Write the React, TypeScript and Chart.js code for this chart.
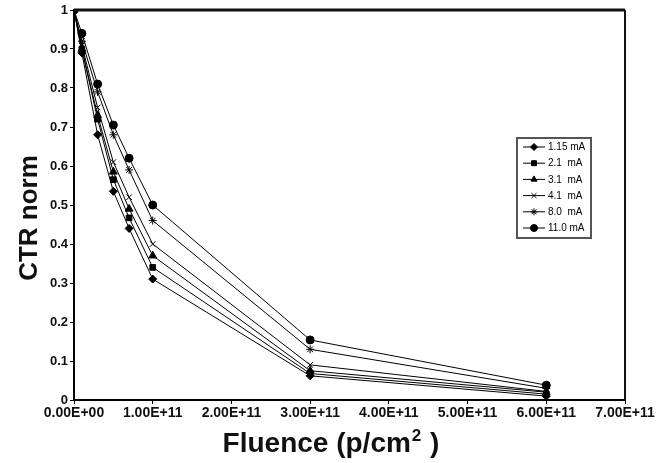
import React, { useEffect, useRef } from "react";
import { Chart, registerables } from "chart.js";
import { drawPoint } from "chart.js/helpers";

Chart.register(...registerables);

const fluence = [0, 1e10, 3e10, 5e10, 7e10, 1e11, 3e11, 6e11];
const seriesLabels = ["1.15 mA", "2.1  mA", "3.1  mA", "4.1  mA", "8.0  mA", "11.0 mA"];
const s115 = [1, 0.89, 0.68, 0.535, 0.44, 0.31, 0.062, 0.01];
const s21 = [1, 0.9, 0.72, 0.565, 0.467, 0.34, 0.068, 0.015];
const s31 = [1, 0.9, 0.73, 0.585, 0.49, 0.37, 0.075, 0.02];
const s41 = [1, 0.91, 0.75, 0.61, 0.52, 0.4, 0.09, 0.022];
const s80 = [1, 0.92, 0.79, 0.68, 0.59, 0.46, 0.13, 0.03];
const s110 = [1, 0.94, 0.81, 0.705, 0.62, 0.5, 0.154, 0.038];
const seriesValues = [s115, s21, s31, s41, s80, s110];
const pointStyles = ["rectRot", "rect", "triangle", "crossRot", "star", "circle"];
const pointRadii = [4, 4, 4.5, 4, 4, 4];
const xTicks = [0, 1e11, 2e11, 3e11, 4e11, 5e11, 6e11, 7e11];
const xTitle = ["Fluence (p/cm", "2", " )"];
const yTitle = "CTR norm";

const FONT = "'Liberation Sans', Arial, sans-serif";

const fmtSci = (v: number) => {
  if (v === 0) return "0.00E+00";
  const e = Math.floor(Math.log10(v));
  const m = v / Math.pow(10, e);
  return m.toFixed(2) + "E+" + String(e).padStart(2, "0");
};

const framePlugin = {
  id: "frame",
  afterDatasetsDraw(chart: any) {
    const { ctx, chartArea } = chart;
    ctx.save();
    ctx.strokeStyle = "#111";
    ctx.lineWidth = 3;
    ctx.beginPath();
    ctx.moveTo(chartArea.left, chartArea.top);
    ctx.lineTo(chartArea.right, chartArea.top);
    ctx.stroke();
    ctx.lineWidth = 2;
    ctx.beginPath();
    ctx.moveTo(chartArea.right, chartArea.top);
    ctx.lineTo(chartArea.right, chartArea.bottom);
    ctx.stroke();
    ctx.restore();
  },
};

const titlesPlugin = {
  id: "titles",
  afterDraw(chart: any) {
    const { ctx } = chart;
    ctx.save();
    ctx.fillStyle = "#111";
    const big = `bold 28px ${FONT}`;
    const small = `bold 17px ${FONT}`;
    ctx.font = big;
    const w1 = ctx.measureText(xTitle[0]).width;
    const w3 = ctx.measureText(xTitle[2]).width;
    ctx.font = small;
    const w2 = ctx.measureText(xTitle[1]).width + 2;
    const total = w1 + w2 + w3;
    let x = 331 - total / 2;
    const base = 452;
    ctx.textBaseline = "alphabetic";
    ctx.textAlign = "left";
    ctx.font = big;
    ctx.fillText(xTitle[0], x, base);
    x += w1 + 1;
    ctx.font = small;
    ctx.fillText(xTitle[1], x, base - 11);
    x += w2 - 1;
    ctx.font = big;
    ctx.fillText(xTitle[2], x, base);
    ctx.translate(30, 218);
    ctx.rotate(-Math.PI / 2);
    ctx.font = `bold 26px ${FONT}`;
    ctx.textAlign = "center";
    ctx.textBaseline = "middle";
    ctx.fillText(yTitle, 0, 0);
    ctx.restore();
  },
};

const legendPlugin = {
  id: "boxLegend",
  afterDraw(chart: any) {
    const { ctx } = chart;
    const x0 = 517;
    const y0 = 138;
    const w = 74;
    const rowH = 16.2;
    const h = 100;
    ctx.save();
    ctx.fillStyle = "#fff";
    ctx.fillRect(x0, y0, w, h);
    ctx.strokeStyle = "#555";
    ctx.lineWidth = 2;
    ctx.strokeRect(x0, y0, w, h);
    chart.data.datasets.forEach((ds: any, i: number) => {
      const y = y0 + 9 + i * rowH;
      ctx.strokeStyle = "#000";
      ctx.lineWidth = 1;
      ctx.beginPath();
      ctx.moveTo(x0 + 6, y);
      ctx.lineTo(x0 + 28, y);
      ctx.stroke();
      ctx.fillStyle = "#000";
      drawPoint(ctx, { pointStyle: ds.pointStyle, radius: 3.5, borderWidth: 1, rotation: 0 }, x0 + 17, y);
      ctx.fillStyle = "#000";
      ctx.font = `10px ${FONT}`;
      ctx.textAlign = "left";
      ctx.textBaseline = "middle";
      ctx.fillText(ds.label, x0 + 31, y + 0.5);
    });
    ctx.restore();
  },
};

export default function App() {
  const ref = useRef<HTMLCanvasElement | null>(null);
  useEffect(() => {
    if (!ref.current) return;
    const chart = new Chart(ref.current, {
      type: "line",
      data: {
        datasets: seriesValues.map((vals, i) => ({
          label: seriesLabels[i],
          data: fluence.map((f, j) => ({ x: f, y: vals[j] })),
          borderColor: "#000",
          backgroundColor: "#000",
          borderWidth: 1,
          pointStyle: pointStyles[i],
          pointRadius: pointRadii[i],
          pointBorderWidth: 1,
          pointBorderColor: "#000",
          pointBackgroundColor: "#000",
          tension: 0,
        })),
      },
      options: {
        animation: false,
        responsive: false,
        layout: { padding: { top: 10, right: 40, left: 0, bottom: 0 } },
        plugins: { legend: { display: false }, tooltip: { enabled: false } },
        scales: {
          x: {
            type: "linear",
            min: 0,
            max: 7e11,
            afterBuildTicks: (s: any) => {
              s.ticks = xTicks.map((v) => ({ value: v }));
            },
            afterFit: (s: any) => {
              s.height = 63;
            },
            grid: { drawOnChartArea: false, color: "#000", tickLength: 4 },
            border: { color: "#000", width: 2 },
            ticks: {
              color: "#111",
              font: { family: FONT, size: 14, weight: "bold" },
              padding: 1,
              maxRotation: 0,
              autoSkip: false,
              callback: (v: any) => fmtSci(Number(v)),
            },
          },
          y: {
            min: 0,
            max: 1,
            afterFit: (s: any) => {
              s.width = 74;
            },
            grid: { drawOnChartArea: false, color: "#000", tickLength: 4 },
            border: { color: "#000", width: 2 },
            ticks: {
              stepSize: 0.1,
              color: "#111",
              font: { family: FONT, size: 13, weight: "bold" },
              padding: 2,
              callback: (v: any) => String(Math.round(Number(v) * 10) / 10),
            },
          },
        },
      },
      plugins: [framePlugin, titlesPlugin, legendPlugin],
    });
    return () => chart.destroy();
  }, []);
  return (
    <div style={{ position: "absolute", left: 0, top: 0, width: 665, height: 463, background: "#fff" }}>
      <canvas ref={ref} width={665} height={463} style={{ display: "block" }} />
    </div>
  );
}
